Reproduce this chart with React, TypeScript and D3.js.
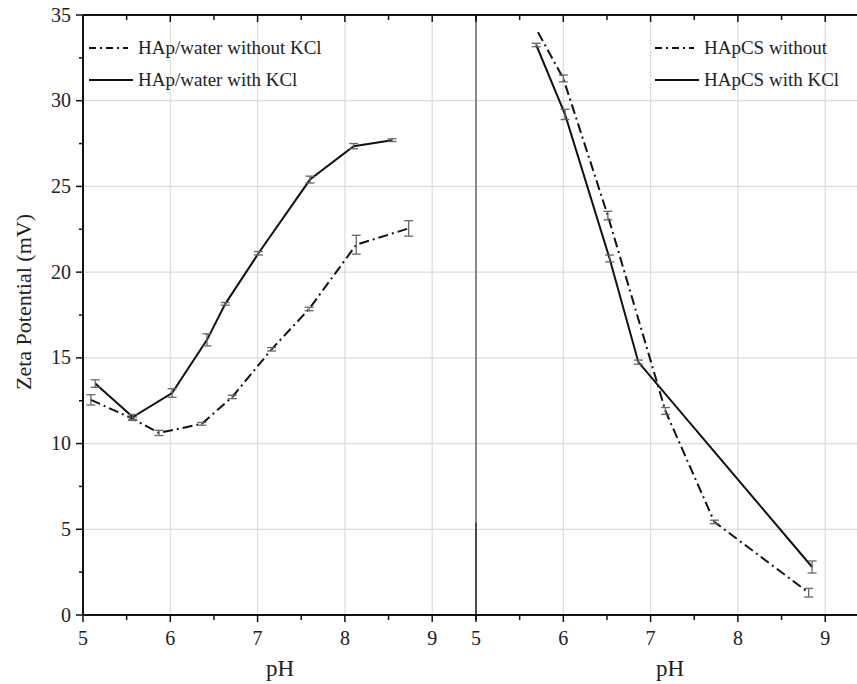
import React, { useEffect, useRef } from 'react';
import * as d3 from 'd3';

// left panel: HAp/water
const phWithKCl = [5.14, 5.57, 6.02, 6.42, 6.63, 7.01, 7.6, 8.1, 8.54];
const zetaWithKCl = [13.5, 11.55, 12.95, 16.05, 18.15, 21.1, 25.4, 27.35, 27.7];
const errWithKCl = [0.22, 0.15, 0.25, 0.35, 0.08, 0.1, 0.2, 0.15, 0.08];

const phWithout = [5.09, 5.57, 5.87, 6.36, 6.71, 7.16, 7.59, 8.13, 8.73];
const zetaWithout = [12.55, 11.45, 10.62, 11.15, 12.72, 15.5, 17.85, 21.6, 22.55];
const errWithout = [0.3, 0.1, 0.15, 0.08, 0.1, 0.1, 0.1, 0.55, 0.45];

// right panel: HApCS
const phCSWithKCl = [5.69, 6.02, 6.53, 6.86, 8.85];
const zetaCSWithKCl = [33.25, 29.2, 20.8, 14.75, 2.8];
const errCSWithKCl = [0.1, 0.3, 0.2, 0.12, 0.35];

const phCSWithout = [5.71, 6.0, 6.51, 7.17, 7.73, 8.81];
const zetaCSWithout = [34.0, 31.3, 23.3, 11.9, 5.43, 1.3];
const errCSWithout = [0, 0.2, 0.25, 0.2, 0.1, 0.25];

const xTicks = [5, 6, 7, 8, 9];
const yTicks = [0, 5, 10, 15, 20, 25, 30, 35];

const FONT = "'Liberation Serif', 'DejaVu Serif', serif";
const DASHDOT = '10,4,2,4';

const App = () => {
  const ref = useRef<SVGSVGElement | null>(null);

  useEffect(() => {
    const svg = d3.select(ref.current);
    svg.selectAll('*').remove();
    const W = 857, H = 684;
    const top = 15, bottom = 615, left = 83, right = 857;

    const xL = d3.scaleLinear().domain([5, 9]).range([83, 432.2]);
    const xR = d3.scaleLinear().domain([5, 9]).range([476, 825.2]);
    const y = d3.scaleLinear().domain([0, 35]).range([bottom, top]);

    svg.append('rect').attr('width', W).attr('height', H).attr('fill', '#fff');

    // grid
    const grid = svg.append('g').attr('stroke', '#dcdcdc').attr('stroke-width', 1.2);
    yTicks.filter(t => t > 0 && t < 35).forEach(t => {
      grid.append('line').attr('x1', left).attr('x2', right).attr('y1', y(t)).attr('y2', y(t));
    });
    [xL, xR].forEach(sc => {
      xTicks.filter(t => t > 5).forEach(t => {
        grid.append('line').attr('x1', sc(t)).attr('x2', sc(t)).attr('y1', top).attr('y2', bottom);
      });
    });

    // separator of right panel (two overlapping lines in the original)
    svg.append('line')
      .attr('x1', xR(5)).attr('x2', xR(5)).attr('y1', top).attr('y2', bottom)
      .attr('stroke', '#7a7a7a').attr('stroke-width', 1.8);
    svg.append('line')
      .attr('x1', xR(5)).attr('x2', xR(5)).attr('y1', y(5.4)).attr('y2', bottom)
      .attr('stroke', '#444').attr('stroke-width', 1.8);

    // axes
    const minorX = d3.range(5, 9.51, 0.5);
    const axes = svg.append('g').attr('stroke', '#111');
    [xL, xR].forEach(sc => {
      minorX.forEach(t => {
        const big = Number.isInteger(t);
        const px = sc(t);
        if (px > right) return;
        axes.append('line').attr('x1', px).attr('x2', px).attr('y1', bottom).attr('y2', bottom + (big ? 7 : 5)).attr('stroke-width', 1.5);
        axes.append('line').attr('x1', px).attr('x2', px).attr('y1', top).attr('y2', top + (big ? 7 : 5)).attr('stroke-width', 1.5);
      });
    });
    d3.range(0, 35.1, 2.5).forEach(t => {
      const big = t % 5 === 0;
      axes.append('line').attr('x1', left - (big ? 7 : 4)).attr('x2', left).attr('y1', y(t)).attr('y2', y(t)).attr('stroke-width', 1.5);
    });
    axes.append('line').attr('x1', left).attr('x2', right).attr('y1', bottom).attr('y2', bottom).attr('stroke-width', 2);
    axes.append('line').attr('x1', left).attr('x2', right).attr('y1', top).attr('y2', top).attr('stroke-width', 2);
    axes.append('line').attr('x1', left).attr('x2', left).attr('y1', top).attr('y2', bottom).attr('stroke-width', 2);

    // tick labels
    const labels = svg.append('g').style('font-family', FONT).style('font-size', '20px').attr('fill', '#222');
    [xL, xR].forEach(sc => {
      xTicks.forEach(t => {
        labels.append('text').attr('x', sc(t)).attr('y', 645).attr('text-anchor', 'middle').text(t);
      });
    });
    yTicks.forEach(t => {
      labels.append('text').attr('x', left - 12).attr('y', y(t) + 6.5).attr('text-anchor', 'end').text(t);
    });

    // titles
    const titles = svg.append('g').style('font-family', FONT).style('font-size', '23px').attr('fill', '#222');
    titles.append('text').attr('x', 280).attr('y', 676).attr('text-anchor', 'middle').text('pH');
    titles.append('text').attr('x', 670).attr('y', 676).attr('text-anchor', 'middle').text('pH');
    titles.append('text')
      .attr('transform', 'translate(31, 302) rotate(-90)')
      .style('font-size', '22px')
      .attr('text-anchor', 'middle').text('Zeta Potential (mV)');

    // series
    const drawSeries = (sc, xs: number[], vs: number[], es: number[], dash: string | null) => {
      const pts = xs.map((p, i) => [sc(p), y(vs[i])] as [number, number]);
      svg.append('path')
        .attr('d', d3.line()(pts))
        .attr('fill', 'none').attr('stroke', '#111').attr('stroke-width', 2)
        .attr('stroke-dasharray', dash);
      const eg = svg.append('g').attr('stroke', '#666').attr('stroke-width', 1.3);
      xs.forEach((p, i) => {
        if (!es[i]) return;
        const px = sc(p);
        const y1 = y(vs[i] + es[i]), y2 = y(vs[i] - es[i]);
        eg.append('line').attr('x1', px).attr('x2', px).attr('y1', y1).attr('y2', y2);
        eg.append('line').attr('x1', px - 4.5).attr('x2', px + 4.5).attr('y1', y1).attr('y2', y1);
        eg.append('line').attr('x1', px - 4.5).attr('x2', px + 4.5).attr('y1', y2).attr('y2', y2);
      });
    };
    drawSeries(xL, phWithout, zetaWithout, errWithout, DASHDOT);
    drawSeries(xL, phWithKCl, zetaWithKCl, errWithKCl, null);
    drawSeries(xR, phCSWithout, zetaCSWithout, errCSWithout, DASHDOT);
    drawSeries(xR, phCSWithKCl, zetaCSWithKCl, errCSWithKCl, null);

    // legends
    const legend = (x0: number, items: [string, string | null][]) => {
      const g = svg.append('g');
      items.forEach(([name, dash], i) => {
        const ly = 48 + i * 32;
        g.append('line').attr('x1', x0).attr('x2', x0 + (dash ? 39 : 44)).attr('y1', ly).attr('y2', ly)
          .attr('stroke', '#111').attr('stroke-width', 2).attr('stroke-dasharray', dash);
        g.append('text').attr('x', x0 + 49).attr('y', ly + 6)
          .style('font-family', FONT).style('font-size', '19px').attr('fill', '#222').text(name);
      });
    };
    legend(89, [['HAp/water without KCl', '7,4,2,4'], ['HAp/water with KCl', null]]);
    legend(655, [['HApCS without', '7,4,2,4'], ['HApCS with KCl', null]]);
  }, []);

  return (
    <div style={{ position: 'absolute', left: 0, top: 0 }}>
      <svg ref={ref} width={857} height={684} style={{ display: 'block' }} />
    </div>
  );
};

export default App;
